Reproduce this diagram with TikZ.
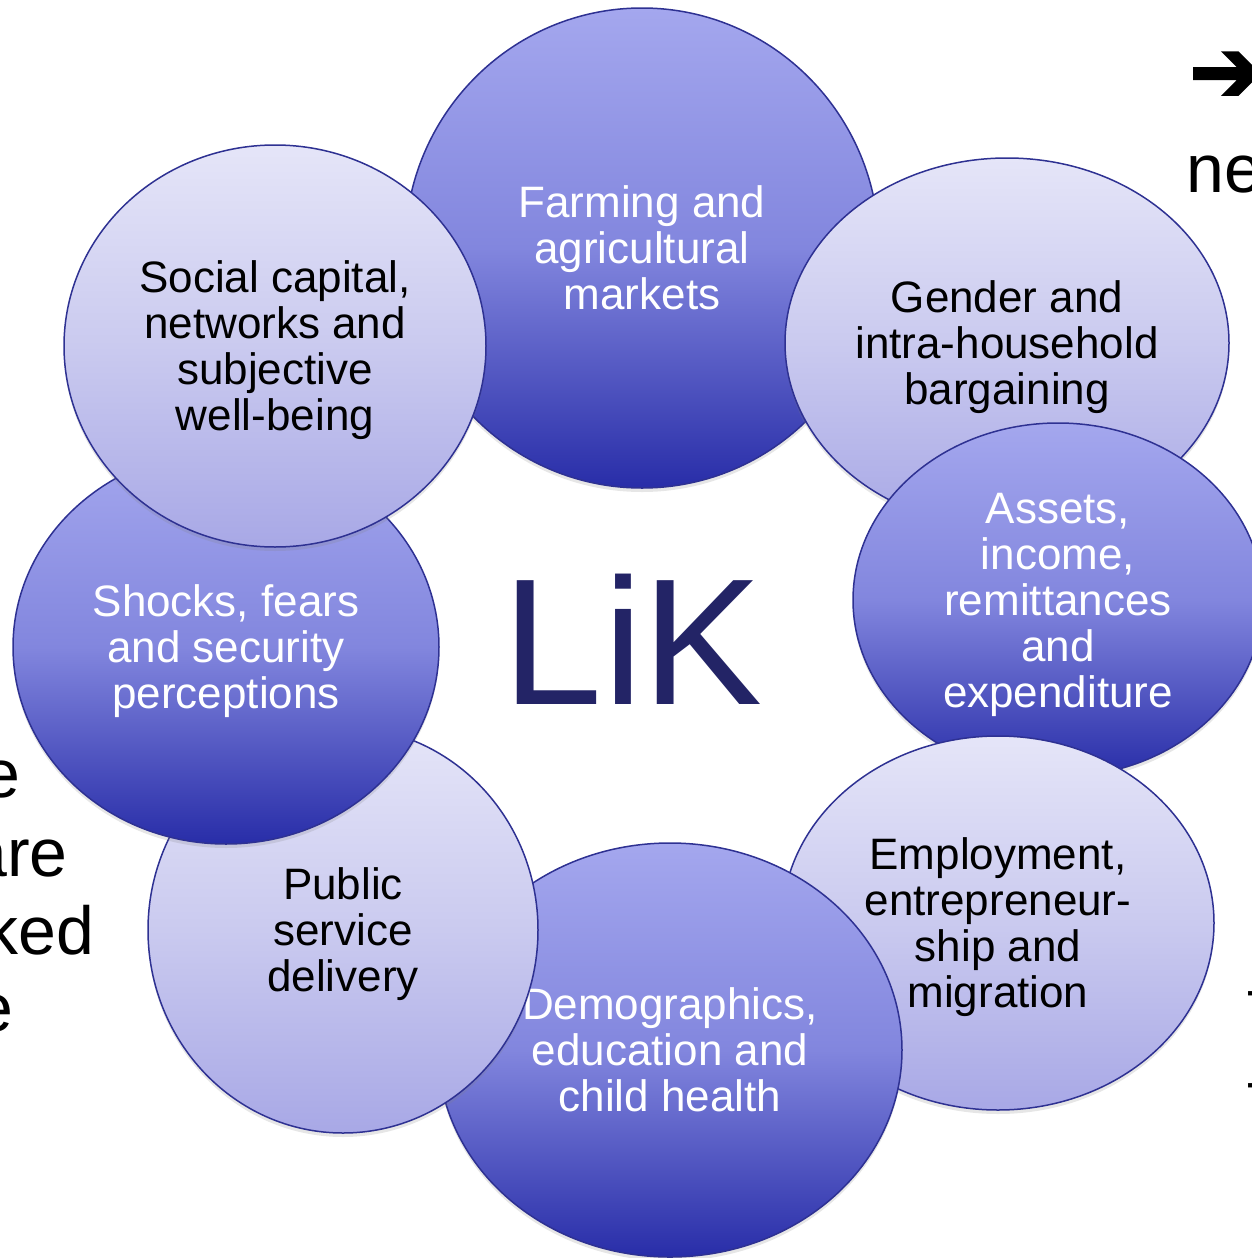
\documentclass[tikz,border=0pt]{standalone}
\usepackage{fontspec}
\setmainfont{Liberation Sans}
\newfontfamily\dingfont[FakeBold=3]{DejaVu Sans}
\usetikzlibrary{shapes.geometric,shadows}

\definecolor{rimblue}{RGB}{46,49,146}
\definecolor{darktop}{RGB}{164,167,238}
\definecolor{darkmid}{RGB}{130,134,222}
\definecolor{darkbot}{RGB}{40,45,168}
\definecolor{lighttop}{RGB}{229,229,248}
\definecolor{lightmid}{RGB}{202,202,239}
\definecolor{lightbot}{RGB}{168,168,230}
\definecolor{likblue}{RGB}{35,36,102}

\tikzset{
  bubble/.style={ellipse, draw=rimblue, line width=0.75pt, align=center, inner sep=0pt,
    text depth=0pt, font=\fontsize{22}{23}\selectfont,
    drop shadow={opacity=0.2, shadow xshift=0pt, shadow yshift=-2pt}},
  darkbubble/.style={bubble, top color=darktop, bottom color=darkbot, middle color=darkmid, text=white},
  lightbubble/.style={bubble, top color=lighttop, bottom color=lightbot, middle color=lightmid, text=black},
  cuttext/.style={inner sep=0pt, font=\fontsize{34}{39}\selectfont}
}

\begin{document}
\begin{tikzpicture}[x=0.5pt,y=-0.5pt]
\useasboundingbox (0,0) rectangle (1252,1258);

% slide text cut by the frame
\node[cuttext, anchor=base east] (lefta) at (21,797) {e};
\node[cuttext, anchor=base east] (leftb) at (68,876) {are};
\node[cuttext, anchor=base east] (leftc) at (95,954) {ked};
\node[cuttext, anchor=base east] (leftd) at (14,1031) {e};
\node[cuttext, anchor=west, font=\dingfont\fontsize{44}{44}\selectfont] (arrow) at (1189,77) {➔};
\node[cuttext, anchor=base west] (righta) at (1186,192) {ne};
\node[cuttext, anchor=base west] (rightb) at (1247,1027) {t};
\node[cuttext, anchor=base west] (rightc) at (1247,1119) {t};

% topics, back to front
\node[darkbubble, minimum width=237pt, minimum height=240pt] (farming) at (642,248) {Farming and\\agricultural\\markets};
\node[lightbubble, minimum width=222pt, minimum height=185pt] (gender) at (1007,343) {Gender and\\intra-household\\bargaining};
\node[darkbubble, minimum width=205pt, minimum height=177pt] (assets) at (1058,600) {Assets,\\income,\\remittances\\and\\expenditure};
\node[lightbubble, minimum width=216pt, minimum height=187pt] (employment) at (998,923) {Employment,\\entrepreneur-\\ship and\\migration};
\node[darkbubble, minimum width=232pt, minimum height=207pt] (demographics) at (670,1050) {Demographics,\\education and\\child health};
\node[lightbubble, minimum width=195pt, minimum height=203pt] (public) at (343,930) {Public\\service\\delivery};
\node[darkbubble, minimum width=213pt, minimum height=197pt] (shocks) at (226,647) {Shocks, fears\\and security\\perceptions};
\node[lightbubble, minimum width=211pt, minimum height=201pt] (social) at (275,346) {Social capital,\\networks and\\subjective\\well-being};

\node[anchor=base, inner sep=0pt, text=likblue, font=\fontsize{90}{90}\selectfont] (lik) at (633,704) {LiK};

\end{tikzpicture}
\end{document}
